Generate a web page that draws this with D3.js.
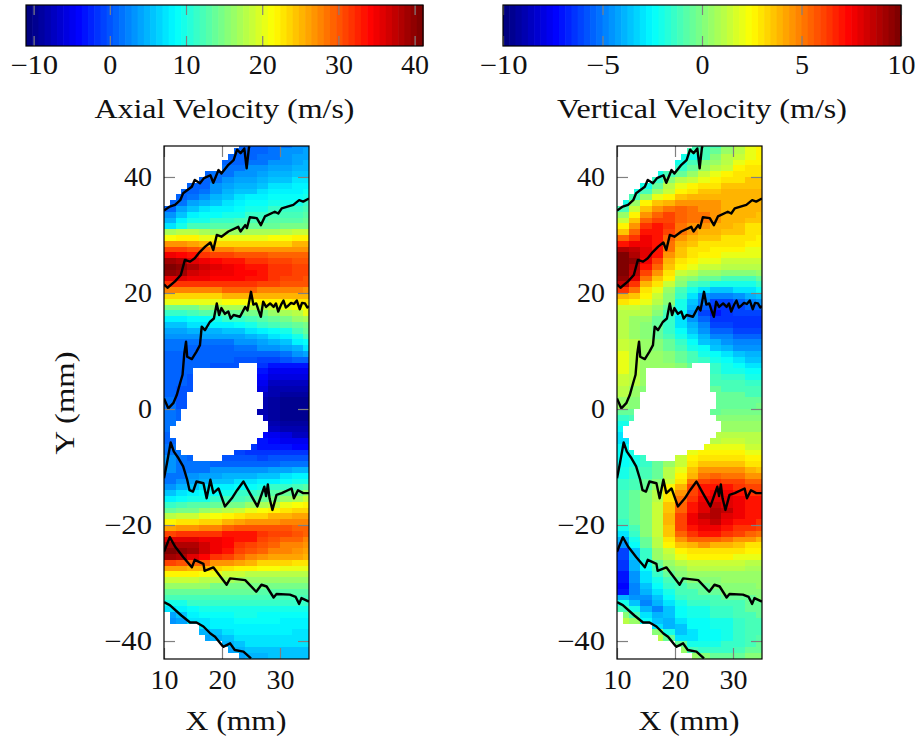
<!DOCTYPE html>
<html><head><meta charset="utf-8">
<script src="https://cdn.jsdelivr.net/npm/d3@7"></script>
<style>html,body{margin:0;background:#fff}svg{display:block}text{font-family:"Liberation Serif",serif;fill:#111}</style>
</head><body><svg id="c" width="915" height="738"></svg>
<script>
const columnCentres=[11,13,15,17,19,21,23,25,27,29,31,33,35];
const rowCentres=d3.range(45.5,-44,-1);
const axialValues=[
[1,1,1,1,1,1,1,1,1,2,2,3,3],[1,1,1,1,1,1,1,1,1,2,3,3,4],[1,1,1,1,1,1,1,1,2,2,3,4,4],[1,1,1,1,1,1,1,2,2,3,3,4,5],[1,1,1,1,1,2,2,3,3,4,4,5,5],
[1,1,1,1,2,2,3,3,4,5,5,6,6],[1,1,1,1,2,3,4,4,5,6,6,7,7],[1,1,1,1,3,4,5,5,6,7,7,8,8],[1,1,1,2,3,5,6,6,7,8,8,8,9],[1,1,2,3,5,6,7,8,8,9,9,9,10],
[1,2,4,5,6,7,8,9,9,10,10,10,11],[1,4,6,7,8,8,9,10,10,11,11,11,12],[3,6,8,9,9,10,10,11,11,12,12,12,13],[5,8,10,10,11,11,12,12,12,13,13,13,14],[7,10,12,12,13,13,13,14,14,14,15,15,15],
[17,18,18,17,16,16,16,17,17,17,18,19,19],[21,22,22,20,20,20,20,20,20,21,21,22,22],[27,27,26,25,24,24,24,24,24,24,24,25,25],[31,31,30,29,28,28,27,27,27,27,27,27,27],[35,34,33,32,31,31,30,30,30,29,29,29,29],
[39,38,36,35,34,33,33,32,32,31,31,30,30],[41,40,38,37,36,35,34,33,33,32,32,31,31],[40,39,37,36,35,35,34,34,33,32,32,31,31],[36,36,35,35,34,34,34,33,33,32,31,31,30],[32,32,32,32,32,32,32,32,31,31,30,30,30],
[28,28,28,28,28,29,29,29,28,28,28,28,27],[24,24,24,24,24,25,25,25,25,25,25,25,25],[20,20,20,20,20,21,21,21,22,22,22,23,23],[15,15,15,16,16,17,17,18,18,19,20,21,21],[11,11,12,13,13,14,14,15,15,16,17,18,20],
[8,8,9,9,10,11,11,12,13,14,15,16,17],[6,6,7,7,8,8,9,10,11,12,13,14,15],[4,4,5,5,5,6,6,7,8,9,10,12,14],[3,3,3,4,4,4,4,5,6,7,8,10,12],[2,2,2,2,2,2,3,3,4,5,6,8,9],
[2,2,1,1,1,1,2,2,3,3,4,5,7],[1,1,1,1,1,1,1,1,1,1,2,3,4],[1,1,1,1,1,1,0,0,-1,-1,0,1,1],[1,1,1,1,0,0,0,0,-2,-3,-3,-3,-3],[1,1,1,1,0,0,0,0,-3,-5,-5,-5,-5],
[1,1,0,0,0,0,0,0,-4,-6,-6,-6,-6],[1,1,0,0,0,0,0,0,-5,-7,-7,-7,-7],[1,0,0,0,0,0,0,0,-6,-8,-8,-8,-8],[1,0,0,0,0,0,0,0,-7,-8,-9,-9,-9],[2,0,-1,-1,-1,-1,-1,-1,-8,-9,-10,-10,-10],
[2,0,-1,-1,-1,-1,-1,-1,-8,-9,-10,-10,-10],[2,1,0,0,0,0,0,-1,-8,-9,-10,-10,-10],[2,1,0,0,0,0,0,-1,-7,-9,-10,-10,-10],[2,1,0,0,0,0,0,-1,-6,-8,-9,-9,-9],[2,1,0,0,0,0,0,-1,-5,-7,-8,-8,-8],
[1,1,0,0,0,0,0,-1,-4,-5,-6,-7,-7],[1,1,0,0,0,0,0,-1,-3,-4,-5,-5,-5],[2,1,0,0,0,0,-1,-2,-3,-3,-3,-4,-4],[2,2,0,0,0,0,-1,-2,-2,-2,-2,-2,-2],[3,2,1,1,0,0,0,0,-1,0,0,0,0],
[3,2,2,2,1,1,1,1,1,1,2,2,2],[3,2,2,2,3,3,3,3,3,4,4,5,5],[2,2,3,4,4,5,5,5,6,6,7,8,8],[2,3,4,5,6,6,7,7,8,8,9,10,10],[3,5,6,7,8,8,9,9,10,11,11,12,13],
[6,7,8,9,9,10,11,11,12,13,14,15,16],[8,9,10,10,11,12,12,13,14,15,16,17,19],[11,12,13,13,14,15,15,16,17,18,20,21,22],[14,15,15,16,17,18,19,20,21,22,23,24,24],[18,19,19,20,21,22,23,24,24,25,25,26,26],
[22,23,23,24,24,25,26,27,27,27,28,28,28],[26,27,27,28,28,29,30,30,30,30,30,29,29],[31,32,32,32,32,33,33,33,32,31,31,30,29],[36,36,36,35,35,34,33,33,31,30,29,29,28],[39,38,38,37,35,34,32,31,30,29,28,28,27],
[41,40,39,37,35,33,31,30,29,28,28,27,26],[39,38,36,34,32,31,29,28,27,26,26,26,25],[31,30,29,29,27,27,26,25,24,24,24,23,23],[26,26,25,25,24,23,22,22,21,21,20,20,20],[22,22,22,21,20,19,19,18,18,18,18,18,18],
[19,19,19,18,18,17,16,16,16,16,16,16,16],[16,16,16,16,15,15,15,15,15,15,15,15,15],[14,14,14,14,14,14,14,14,13,13,13,13,13],[12,12,12,12,12,12,12,12,12,12,12,12,12],[10,10,11,11,11,11,11,11,11,11,11,11,11],
[7,8,9,10,10,10,10,10,10,10,10,10,10],[4,6,8,9,9,9,10,10,9,9,9,9,9],[3,4,7,7,8,8,9,9,9,9,8,8,8],[3,4,6,7,8,8,8,8,8,8,8,8,8],[3,4,5,5,6,7,8,8,8,8,8,7,7],
[3,3,4,4,5,6,7,7,7,7,7,7,7],[3,3,3,3,4,5,6,7,7,7,7,7,7],[3,3,3,3,3,4,5,6,6,6,6,6,6],[3,3,3,3,3,3,4,5,5,6,6,6,6],[3,3,3,3,3,3,4,5,5,6,6,6,6]];
const verticalValues=[
[-1,-1,-1,-1,-1,-1,-1,-1,-1,0,1,2,2.5],[-1,-1,-1,-1,-1,-1,-1,-1,-.5,.5,1,2,2.5],[-2,-2,-2,-2,-2,-2,-2,-1,0,1,1.5,2,2.5],[-2,-2,-2,-2,-2,-2,-1,0,.5,1,2,2.5,2.5],[-2,-2,-2,-2,-2,-1.5,-.5,.5,1,1.5,2.5,3,3],
[-2,-2,-2,-2,-1,-.5,.5,1.5,2,2.5,3,3,3],[-2,-2,-2,-1.5,0,1,1.5,2,2.5,3,3,3.5,3.5],[-2,-2,-2,-.5,1,2,2.5,3,3,3.5,3.5,3.5,3.5],[-2,-2,-1,.5,1.5,2.5,3,3.5,3.5,4,4,4,4],[-2,-1,.5,2,2.5,3.5,4,4,4,4,4,4,4],
[-2,.5,2.5,3.5,4,4.5,4.5,4.5,4.5,4,4,4,4],[-1,1.5,3.5,4.5,5,5.5,5,4.5,4.5,4,4,4,4],[.5,2.5,4.5,5.5,6,5.5,5,5,4.5,4,4,4,3.5],[1.5,3.5,5.5,6,6,5.5,5,5,4.5,4,4,3.5,3.5],[2.5,4.5,6.5,7,6.5,5,4.5,4.5,4,4,3.5,3,3],
[3.5,5.5,7,7,6,5,4.5,4,4,3.5,3.5,3,3],[5.5,6.5,7.5,7,5.5,4.5,4,3.5,3.5,3,3,3,2.5],[7,7.5,7.5,7,5,4,3.5,3,3,3,3,2.5,2.5],[9,8.5,8,7,5,3.5,3,3,2.5,2.5,2.5,2,2],[10,9,8,7,4.5,3.5,3,2.5,2.5,2,2,2,2],
[10,9.5,7.5,6,4,3,2.5,2,2,1.5,1.5,1.5,1.5],[10,9,7,5.5,3.5,2.5,2,1.5,1.5,1,1,1,1],[10,8.5,6,4.5,3,1.5,1,.5,.5,0,0,0,.5],[9.5,8,5,3.5,2.5,.5,0,-.5,-.5,-1,-1,-1,-.5],[8.5,6.5,4,3,1.5,0,-1,-1.5,-2,-2,-2,-2,-1.5],
[6.5,5,3,2,.5,-1,-2,-3,-3.5,-3.5,-3,-3,-2.5],[4,3.5,2.5,1.5,0,-1.5,-3,-4.5,-5,-5,-4.5,-4,-3.5],[3,2.5,2,1,0,-2,-3.5,-5,-6,-6,-5.5,-5,-4.5],[1.5,1.5,1,.5,-.5,-2,-4,-5.5,-6.5,-6.5,-6,-5.5,-5.5],[1,1,1,0,-1,-2.5,-4.5,-6,-7,-6.5,-6,-6,-6],
[1,.5,.5,-.5,-1.5,-3,-4.5,-5.5,-6.5,-6.5,-6.5,-6.5,-6.5],[1,.5,0,-.5,-1.5,-3,-4,-5,-6,-6,-6.5,-6.5,-6.5],[1,.5,0,-.5,-1.5,-2.5,-3.5,-4.5,-5.5,-5.5,-6,-6,-6],[1,.5,0,-.5,-1,-2,-3,-4,-5,-5,-5.5,-5.5,-5.5],[1.5,1,.5,0,-.5,-1.5,-2.5,-3.5,-4,-4.5,-5,-5,-5],
[1.5,1,.5,0,-.5,-1,-2,-2.5,-3.5,-4,-4.5,-4.5,-4.5],[2,1,.5,.5,0,-.5,-1,-2,-2.5,-3,-3.5,-4,-4],[2,1,.5,.5,0,-.5,-1,-1.5,-2,-2.5,-3,-3.5,-3.5],[2,1,.5,.5,.5,0,-.5,-1,-1.5,-2,-2.5,-3,-3],[2,1,.5,.5,.5,0,-.5,-1,-1.5,-2,-2,-2.5,-2.5],
[1.5,1,.5,.5,0,0,-.5,-.5,-1,-1.5,-1.5,-2,-2],[1.5,1,.5,.5,0,0,-.5,-.5,-1,-1,-1,-1.5,-1.5],[1,.5,0,0,0,0,-.5,-.5,-.5,-1,-1,-1,-1],[1,.5,0,0,0,0,-.5,-.5,-.5,-.5,-.5,-1,-1],[.5,0,0,0,0,0,-.5,-.5,-.5,-.5,-.5,-.5,-.5],
[.5,0,0,0,0,0,0,-.5,-.5,-.5,-.5,-.5,-.3],[-.5,-.5,-.5,0,0,0,0,0,-.5,-.3,-.3,-.3,-.3],[-1.5,-1,-.5,0,0,0,0,0,0,0,0,0,0],[-2,-1.5,-.5,0,0,0,0,0,.5,.5,.5,.5,.5],[-2.5,-2,-1,0,0,0,0,.5,.5,.5,.5,.5,.5],
[-3,-2,-1,0,0,0,.5,.5,1,1,1,1,1],[-3,-2,-1,0,0,.5,1,1,1,1.5,1.5,1,1],[-2.5,-2,-1,0,.5,1,1.5,2,2,2,2,1.5,1.5],[-2.5,-2,-1,-.5,.5,1,2,2.5,2.5,2.5,2.5,2,2],[-2.5,-2,-1.5,-.5,.5,1.5,2.5,3,3,3,3,2.5,2.5],
[-2.5,-2,-1.5,-.5,.5,1.5,3,3.5,3.5,3.5,3.5,3,3],[-2,-1.5,-1,-.5,1,2,3.5,4.5,4.5,4.5,4.5,4,3.5],[-2,-1.5,-1,-.5,1,2.5,4,5,5.5,5,5,4.5,4.5],[-1.5,-1,-.5,0,1.5,3,5,6,6.5,6,6,5.5,5.5],[-1.5,-1,-.5,.5,2.5,4,6,7,7,7,6.5,6,6],
[-1,-.5,0,1,3,4.5,6,7,7.5,7.5,7,6.5,6.5],[-1,-.5,0,1,3,5,6.5,7.5,8,8,7.5,7,7],[-1,-.5,0,1.5,3.5,5.5,7,8,8.5,8,7.5,7,7],[-1,-.5,0,1.5,3.5,5.5,7,8,9,8.5,7.5,7,7],[-1,-.5,0,1.5,4,6,7.5,8.5,9,8,7.5,7,7],
[-1.5,-.5,0,1.5,4,6,7.5,8,8.5,7.5,7,7,6.5],[-2,-1,0,1.5,3.5,6,7,7.5,7.5,7,6.5,6.5,6],[-3,-1.5,0,1.5,3.5,5.5,6.5,7,7,6.5,6,5.5,5],[-4,-2,-.5,1,3,4.5,5.5,5.5,5.5,5,4.5,4.5,4],[-4.5,-2.5,-.5,1,2.5,3.5,4,4.5,4,4,3.5,3,3],
[-6,-3.5,-1.5,.5,1.5,2.5,3,3,3,3,3,2.5,2.5],[-6,-3.5,-1.5,.5,1,2,2.5,2.5,2.5,2.5,2,2,2],[-6.5,-4,-2,-.5,.5,1,1.5,1.5,1.5,1.5,1.5,1,1],[-6.5,-4,-2.5,-1,0,.5,1,1,1,1,1,.8,.8],[-7,-4.5,-3,-1.5,-.5,0,.5,.5,.5,.5,.5,.5,.5],
[-7,-4.5,-3,-2,-1,-.5,0,0,0,.5,.5,.5,.5],[-7.5,-5,-3.5,-2.5,-1.5,-1,-.5,-.5,0,0,0,0,.5],[-7,-5,-4,-3,-2,-1,-1,-.5,-.5,0,0,0,0],[-4,-4.5,-4.5,-3.5,-2.5,-1.5,-1,-1,-1,-.5,-.5,-.5,0],[-2,-3.5,-5,-4,-3,-2,-1.5,-1.5,-1,-1,-1,-.5,-.5],
[-1,-2,-4,-5,-3.5,-2.5,-2,-2,-1.5,-1.5,-1,-.5,-.5],[0,-1,-3,-4,-3.5,-2.5,-2,-2,-1.5,-1.5,-1,-1,-.5],[1,.5,-2.5,-3.5,-4,-3,-2.5,-2.5,-2,-2,-1.5,-1,-1],[2,1,-1.5,-3,-4,-3.5,-2.5,-2.5,-2,-2,-1.5,-1,-1],[1,1,1,0,-2,-3.5,-3,-2.5,-2.5,-2,-1.5,-1,-1],
[1,1,1,1,-.5,-3,-3,-2.5,-2.5,-2,-1.5,-1,-.8],[1,1,1,1,1,-.5,-2,-2,-2,-1.5,-1.5,-1,-.5],[1,1,1,1,1,.5,-1,-1.5,-1.5,-1.5,-1,-.5,-.5],[1,1,1,1,1,1,.5,0,-.5,-.5,-.5,0,0],[1,1,1,1,1,1,.5,0,-.5,-.5,-.5,0,0]];
// no-data blocks: [xStart,xEnd,yTop,yBottom] in mm
const blankBlocks=[
[10,11,46,35],[11,12,46,36],[12,13,46,37],[13,14,46,38],[14,16,46,39],[16,17,46,40],[17,20,46,41],[20,21,46,43],[21,22,46,44],[22,23,46,45],
[23,26,8,7],[15,26,7,3],[14,27,3,0],[13,26,0,-1],[13,27,-1,-2],[12,28,-2,-3],[11,28,-3,-4],[11,27,-4,-5],[12,26,-5,-6],[12,25,-6,-7],[13,22,-7,-8],[15,20,-8,-9],
[10,11,-35,-44],[11,16,-37,-44],[16,17,-39,-44],[17,20,-40,-44],[20,21,-41,-44],[21,23,-42,-44]];
const traceA=[[10,34.2],[11,34.9],[11.9,35.2],[12.8,36],[13.3,37.2],[14.8,38.3],[15.3,39.5],[16.2,38.9],[16.9,39.8],[18,40.3],[18.5,39],[19.4,41.2],[19.9,40.6],[21.1,42.1],[22,42.9],[22.6,44.7],[23.2,44.1],[23.85,44.9],[24.25,41.5],[24.65,45.1],[24.8,45.3]];
const traceB=[[10,21.5],[10.6,20.9],[11.9,22],[12.9,23.1],[13.6,25.7],[14.5,25.4],[15.3,26],[16.2,27.1],[17.1,28],[18,28.7],[18.5,27.4],[19.1,30],[19.9,29.7],[21.1,30.6],[22.8,31.4],[23.2,30.6],[24,31.7],[24.3,31.2],[24.8,33.05],[26,32.9],[26.7,31.7],[27.4,33.2],[29.1,34],[29.7,33.7],[30.3,34.6],[32.3,35.2],[33.3,36],[34,35.75],[35,36.3]];
const traceC=[[10,1.8],[10.75,.1],[11.6,1],[12.2,2.4],[12.76,4.4],[13.2,5.9],[13.5,9.6],[13.8,11.6],[14,9],[14.8,8.6],[15.6,9.9],[16.2,11],[16.5,14.2],[17.07,13.6],[17.9,15],[18.6,15.6],[19.1,18.2],[19.5,16.2],[19.9,17.4],[20.5,16.4],[21.1,16.8],[21.5,15.6],[22,16.2],[23.1,15.9],[24,17.6],[24.4,17],[25,20.2],[25.4,18],[25.9,18.2],[26.3,17],[26.7,15.9],[27.1,18.5],[27.6,17.6],[28.3,18.2],[28.9,17.6],[29.3,18.2],[29.7,16.8],[30.2,18],[30.6,18.7],[31,17.5],[31.4,17.8],[31.9,18.3],[32.4,18.1],[32.9,18.7],[33.4,17.2],[33.8,18.3],[34.3,18.2],[34.7,17.5],[35,17.7]];
const traceD=[[10,-11.95],[10.5,-9.4],[11.15,-5.75],[11.7,-7.35],[12.5,-8.5],[13.3,-9.9],[14,-12.2],[14.4,-14],[15,-14.25],[15.6,-12.5],[16.8,-12.8],[17.35,-15.4],[18,-12.2],[18.5,-14.5],[19.4,-13.7],[20.5,-16.8],[21.7,-15.4],[22.6,-14],[23.7,-12.5],[24.8,-14.5],[26.1,-16.8],[27.3,-13.4],[27.6,-15],[27.9,-13],[28.2,-15.4],[28.7,-17.4],[29.4,-14.8],[30.3,-14.5],[32,-13.7],[32.4,-15.4],[33.1,-14],[34,-14.5],[35,-14.5]];
const traceE=[[10,-24.6],[11,-22.1],[11.9,-23.7],[13.3,-25.5],[14.8,-27.3],[15.3,-26],[16.8,-26.7],[17,-27.9],[18.5,-27.3],[20.8,-30.3],[21.4,-29.2],[24,-29.5],[25.9,-31.5],[26.8,-30.3],[27.7,-30.6],[28.9,-32.5],[29.4,-31.9],[31.7,-32],[32.7,-32.4],[33.3,-33.6],[33.7,-32.6],[35,-33.2]];
const traceF=[[10,-33.3],[11,-33.8],[13,-35.6],[14.5,-36.8],[15.6,-36.8],[16.8,-37.5],[18,-38.7],[18.8,-39.25],[20.2,-41],[21.4,-40.4],[22.2,-41.55],[23.7,-41.84],[25,-43]];
const traces=[traceA,traceB,traceC,traceD,traceE,traceF];
const axialBarTicks=[-10,0,10,20,30,40], verticalBarTicks=[-10,-5,0,5,10], xTicks=[10,20,30], yTicks=[-40,-20,0,20,40];

const svg=d3.select("#c");
const jetBase=d3.scaleLinear().domain([0,.125,.375,.625,.875,1]).range(["#000080","#0000ff","#00ffff","#ffff00","#ff0000","#800000"]);
const LEVELS=64;
const jet=t=>jetBase(Math.floor(Math.max(0,Math.min(.9999,t))*LEVELS)/(LEVELS-1));
const FS=26.6;

function styleAxis(g,labels){
  g.select(".domain").remove();
  g.selectAll(".tick line").attr("stroke","#808080").attr("stroke-width",1.2);
  g.selectAll(".tick text").attr("font-size",FS).attr("font-family","Liberation Serif").attr("fill","#111")
   .attr("lengthAdjust","spacingAndGlyphs")
   .attr("textLength",d=>{const s=String(Math.abs(d));return s.length*14+(d<0?20:0);});
  if(!labels) g.selectAll(".tick text").remove();
}
function colorbar(x0,x1,domain,ticks,title,titleWidth){
  const y0=5,y1=46,s=d3.scaleLinear().domain(domain).range([x0,x1]);
  const g=svg.append("g");
  const lv=d3.range(LEVELS);
  g.selectAll("rect").data(lv).join("rect")
   .attr("x",i=>x0+(x1-x0)*i/LEVELS).attr("width",(x1-x0)/LEVELS+.6).attr("y",y0).attr("height",y1-y0)
   .attr("fill",i=>jet((i+.5)/LEVELS));
  g.append("g").attr("transform",`translate(0,${y1})`).call(d3.axisBottom(s).tickValues(ticks).tickSizeInner(-10).tickSizeOuter(0).tickPadding(9)).call(a=>styleAxis(a,true));
  g.append("g").attr("transform",`translate(0,${y0})`).call(d3.axisTop(s).tickValues(ticks).tickSizeInner(-10).tickSizeOuter(0)).call(a=>styleAxis(a,false));
  g.append("rect").attr("x",x0).attr("y",y0).attr("width",x1-x0).attr("height",y1-y0).attr("fill","none").attr("stroke","#000").attr("stroke-width",1.2);
  g.append("text").attr("x",(x0+x1)/2).attr("y",118).attr("text-anchor","middle").attr("font-size",FS).attr("textLength",titleWidth).attr("lengthAdjust","spacingAndGlyphs").text(title);
}
colorbar(26,423,[-11,41.1],axialBarTicks,"Axial Velocity (m/s)",260);
colorbar(503,901,[-10,10],verticalBarTicks,"Vertical Velocity (m/s)",290);

function panel(px0,values,domain,id,showY){
  const x=d3.scaleLinear().domain([10,35]).range([px0,px0+145]);
  const y=d3.scaleLinear().domain([45.34,-43.1]).range([146,659]);
  const c=d3.scaleLinear().domain(domain).range([0,1]);
  svg.append("clipPath").attr("id",id).append("rect").attr("x",px0).attr("y",146).attr("width",145).attr("height",513);
  const g=svg.append("g");
  const map=g.append("g").attr("clip-path",`url(#${id})`);
  const cells=rowCentres.flatMap((yc,r)=>columnCentres.map((xc,k)=>({xc,yc,v:values[r][k]})));
  map.selectAll("rect.cell").data(cells).join("rect").attr("class","cell")
    .attr("x",d=>x(d.xc-1)).attr("y",d=>y(d.yc+.5)).attr("width",d=>x(d.xc+1)-x(d.xc-1)+.5).attr("height",d=>y(d.yc-.5)-y(d.yc+.5)+.5)
    .attr("fill",d=>jet(c(d.v))).attr("shape-rendering","crispEdges");
  map.selectAll("rect.blank").data(blankBlocks).join("rect").attr("class","blank")
    .attr("x",d=>x(d[0])).attr("y",d=>y(d[2])).attr("width",d=>x(d[1])-x(d[0])).attr("height",d=>y(d[3])-y(d[2])).attr("fill","#fff").attr("shape-rendering","crispEdges");
  g.append("g").attr("transform","translate(0,659)").call(d3.axisBottom(x).tickValues(xTicks).tickSizeInner(-11).tickSizeOuter(0).tickPadding(11)).call(a=>styleAxis(a,true));
  g.append("g").attr("transform","translate(0,146)").call(d3.axisTop(x).tickValues(xTicks).tickSizeInner(-11).tickSizeOuter(0)).call(a=>styleAxis(a,false));
  g.append("g").attr("transform",`translate(${px0},0)`).call(d3.axisLeft(y).tickValues(yTicks).tickSizeInner(-11).tickSizeOuter(0).tickPadding(12)).call(a=>styleAxis(a,true));
  g.append("g").attr("transform",`translate(${px0+145},0)`).call(d3.axisRight(y).tickValues(yTicks).tickSizeInner(-11).tickSizeOuter(0)).call(a=>styleAxis(a,false));
  const line=d3.line().x(d=>x(d[0])).y(d=>y(d[1]));
  map.selectAll("path.trace").data(traces).join("path").attr("class","trace").attr("d",line).attr("fill","none").attr("stroke","#000").attr("stroke-width",2.4).attr("stroke-linejoin","round");
  g.append("rect").attr("x",px0).attr("y",146).attr("width",145).attr("height",513).attr("fill","none").attr("stroke","#000").attr("stroke-width",1.2);
  g.append("text").attr("x",px0+72).attr("y",730).attr("text-anchor","middle").attr("font-size",FS).attr("textLength",101).attr("lengthAdjust","spacingAndGlyphs").text("X (mm)");
  if(showY) g.append("text").attr("transform","translate(74,403) rotate(-90)").attr("text-anchor","middle").attr("font-size",FS).attr("textLength",103).attr("lengthAdjust","spacingAndGlyphs").text("Y (mm)");
}
panel(164,axialValues,[-11,41.1],"clipA",true);
panel(617,verticalValues,[-10,10],"clipB",false);
</script></body></html>
